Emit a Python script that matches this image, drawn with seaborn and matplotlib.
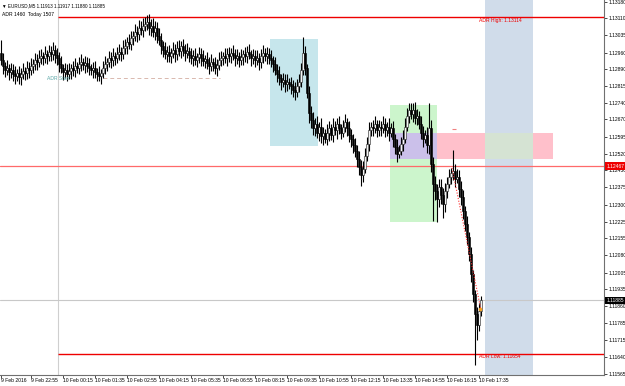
import matplotlib
matplotlib.use("Agg")
import matplotlib.pyplot as plt
import matplotlib.transforms as mtransforms
from matplotlib.patches import Rectangle
import numpy as np
import pandas as pd
import seaborn as sns

# ---------------- data ----------------
symbol_title = "\u25BC EURUSD,M5 1.11913 1.11917 1.11880 1.11885"
adr_title = "ADR 1460  Today 1507"

first_open = 1.12960
closes = [
    1.12927, 1.12901, 1.12884, 1.12892, 1.12875, 1.12884, 1.12866, 1.12857, 1.12870, 1.12853,
    1.12866, 1.12879, 1.12870, 1.12892, 1.12884, 1.12901, 1.12910, 1.12927, 1.12918, 1.12936,
    1.12944, 1.12936, 1.12953, 1.12944, 1.12962, 1.12953, 1.12971, 1.12949, 1.12936, 1.12910,
    1.12892, 1.12875, 1.12884, 1.12866, 1.12879, 1.12892, 1.12884, 1.12901, 1.12892, 1.12910,
    1.12918, 1.12905, 1.12914, 1.12901, 1.12892, 1.12884, 1.12892, 1.12875, 1.12866, 1.12857,
    1.12870, 1.12892, 1.12910, 1.12918, 1.12936, 1.12927, 1.12944, 1.12936, 1.12953, 1.12962,
    1.12953, 1.12979, 1.12988, 1.13006, 1.12997, 1.13023, 1.13032, 1.13049, 1.13040, 1.13067,
    1.13058, 1.13075, 1.13084, 1.13093, 1.13067, 1.13075, 1.13049, 1.13067, 1.13032, 1.13014,
    1.12988, 1.12971, 1.12953, 1.12962, 1.12944, 1.12958, 1.12971, 1.12953, 1.12979, 1.12966,
    1.12988, 1.12971, 1.12958, 1.12966, 1.12949, 1.12936, 1.12944, 1.12927, 1.12940, 1.12953,
    1.12936, 1.12923, 1.12931, 1.12914, 1.12901, 1.12918, 1.12910, 1.12892, 1.12905, 1.12927,
    1.12936, 1.12944, 1.12936, 1.12953, 1.12944, 1.12958, 1.12949, 1.12936, 1.12944, 1.12927,
    1.12940, 1.12953, 1.12944, 1.12962, 1.12953, 1.12936, 1.12944, 1.12927, 1.12936, 1.12918,
    1.12944, 1.12958, 1.12944, 1.12953, 1.12936, 1.12927, 1.12910, 1.12884, 1.12866, 1.12849,
    1.12831, 1.12840, 1.12822, 1.12831, 1.12822, 1.12814, 1.12796, 1.12788, 1.12814, 1.12831,
    1.12884, 1.12958, 1.12892, 1.12783, 1.12696, 1.12666, 1.12631, 1.12648, 1.12613, 1.12639,
    1.12596, 1.12609, 1.12587, 1.12613, 1.12631, 1.12604, 1.12639, 1.12622, 1.12648, 1.12631,
    1.12613, 1.12639, 1.12657, 1.12631, 1.12604, 1.12587, 1.12561, 1.12535, 1.12500, 1.12465,
    1.12430, 1.12456, 1.12509, 1.12565, 1.12622, 1.12639, 1.12631, 1.12648, 1.12622, 1.12639,
    1.12631, 1.12648, 1.12622, 1.12639, 1.12613, 1.12631, 1.12587, 1.12552, 1.12522, 1.12535,
    1.12565, 1.12587, 1.12639, 1.12683, 1.12709, 1.12692, 1.12709, 1.12674, 1.12683, 1.12648,
    1.12613, 1.12587, 1.12604, 1.12561, 1.12631, 1.12478, 1.12391, 1.12360, 1.12326, 1.12378,
    1.12343, 1.12304, 1.12360, 1.12391, 1.12421, 1.12439, 1.12447, 1.12413, 1.12421, 1.12369,
    1.12334, 1.12273, 1.12216, 1.12160, 1.12086, 1.11998, 1.11911, 1.11824, 1.11780, 1.11837,
    1.11885,
]
upper_wick_pips = [
    5.4, 3, 2, 3.5, 2, 3, 2.5, 3.5, 2, 3,
    2.5, 3.5, 2, 3, 2.5, 3.5, 2, 3, 2.5, 3.5,
    3, 2, 3.5, 2, 3, 2.5, 3.5, 2, 3, 2.5,
    3.5, 2, 3, 2.5, 3.5, 2, 3, 3.5, 2, 3,
    3.5, 2, 3, 2.5, 3.5, 2, 2.5, 3, 2, 3.5,
    2, 3, 3.5, 2, 3, 2.5, 3.5, 2, 3, 3.5,
    2, 3.5, 3, 2, 3.5, 3, 2, 3.5, 2.5, 3.5,
    3, 3.5, 3, 3, 3.5, 3, 3.5, 3, 2.5, 3.5,
    3, 2, 3.5, 2.5, 3, 2, 3.5, 2.5, 3, 3.5,
    2, 3, 2.5, 3.5, 2, 3, 2.5, 3.5, 2, 3,
    2.5, 3.5, 2, 3, 2.5, 3.5, 2, 3, 2.5, 3.5,
    3, 2, 3.5, 2.5, 3, 2, 3.5, 2.5, 3, 2,
    3.5, 2, 3, 2.5, 3.5, 2, 3, 2.5, 3.5, 2,
    3, 3.5, 2, 3, 2.5, 3.5, 2, 3, 2.5, 3.5,
    2, 3, 2.5, 3.5, 2, 3, 2.5, 3.5, 3, 3.5,
    3, 7, 3, 2, 3, 3, 3.5, 3, 3.5, 2,
    3.5, 3, 2, 3.5, 3, 2, 3.5, 2.5, 3, 3.5,
    2, 3, 3.5, 2, 3, 2.5, 2, 3, 2.5, 3.5,
    3, 3.5, 3.5, 3, 3.5, 2, 3, 3.5, 2, 3,
    2.5, 3.5, 3, 2, 3.5, 2.5, 3, 2, 3.5, 2.5,
    3, 3.5, 3.5, 3.5, 3, 3, 3, 3.5, 3, 2.5,
    3.5, 3, 2, 3.5, 11, 3.5, 3, 3.5, 3, 3.5,
    3.5, 3, 3.5, 3, 3.5, 2, 9, 3, 3.5, 3,
    3.5, 3, 2, 3.5, 2, 3, 2, 2, 3, 3.5,
    2,
]
lower_wick_pips = [
    2, 3.5, 3, 2, 3.5, 2.5, 3, 3.5, 2, 3,
    3.5, 2, 3, 2.5, 3.5, 2, 3, 2.5, 3.5, 2,
    2.5, 3, 2, 3.5, 2, 3, 2.5, 3.5, 3, 3.5,
    2, 3.5, 2.5, 3, 2, 3.5, 2.5, 3, 2, 2.5,
    3, 2, 3.5, 2.5, 3, 2, 3.5, 2.5, 3, 2,
    3.5, 2, 2.5, 3, 2, 3.5, 2.5, 3, 2, 2.5,
    3, 2, 2.5, 3.5, 2, 2.5, 3, 2, 3.5, 2.5,
    2, 3, 2, 2.5, 3, 3.5, 2, 3.5, 3, 2,
    3.5, 3, 2, 3.5, 2.5, 3, 2, 3.5, 2.5, 2,
    3, 2.5, 3.5, 2, 3, 2.5, 3.5, 2, 3, 2.5,
    3.5, 2, 3, 2.5, 3.5, 2, 3, 2.5, 3.5, 2,
    2.5, 3, 2, 3.5, 2.5, 3, 2, 3.5, 2.5, 3,
    2, 3.5, 2.5, 3, 2, 3.5, 2.5, 3, 2, 3.5,
    2.5, 3, 2, 3.5, 2.5, 3, 3.5, 2, 3.5, 3,
    3.5, 2, 3.5, 3, 2, 3.5, 3, 3.5, 2, 2.5,
    2, 2, 3, 2, 4, 3.5, 3, 3.5, 2.5, 3.5,
    3, 3.5, 2, 3, 3.5, 2.5, 3, 2, 3.5, 2.5,
    3, 2, 2.5, 3.5, 3, 3.5, 3.5, 3, 3.5, 3.5,
    5, 3, 2, 2, 3, 2.5, 3.5, 2, 3, 2.5,
    3.5, 2, 3, 2.5, 3.5, 2, 3.5, 3, 3.5, 2,
    2, 3, 2, 2, 3, 2, 3.5, 2.5, 3, 2,
    3, 3.5, 2, 3.5, 4, 3.5, 16, 4, 10, 3.5,
    4, 6, 3.5, 3, 2, 3, 3, 3.5, 2, 3.5,
    3.5, 3.5, 3, 3.5, 3, 3.5, 3.5, 22, 6.5, 3,
    2,
]

x_tick_bars = [0, 15, 31, 47, 63, 79, 95, 111, 127, 143, 159, 175, 191, 207, 223, 239]
x_tick_labels = ["9 Feb 2016", "9 Feb 22:55", "10 Feb 00:15", "10 Feb 01:35", "10 Feb 02:55",
                 "10 Feb 04:15", "10 Feb 05:35", "10 Feb 06:55", "10 Feb 08:15", "10 Feb 09:35",
                 "10 Feb 10:55", "10 Feb 12:15", "10 Feb 13:35", "10 Feb 14:55", "10 Feb 16:15",
                 "10 Feb 17:35"]
y_tick_labels = ["1.13180", "1.13110", "1.13035", "1.12960", "1.12890", "1.12815", "1.12740",
                 "1.12670", "1.12595", "1.12520", "1.12450", "1.12375", "1.12300", "1.12225",
                 "1.12155", "1.12080", "1.12005", "1.11935", "1.11860", "1.11785", "1.11715",
                 "1.11640", "1.11565"]

adr_start_bar = 28.5
adr_high = 1.13114
adr_low = 1.11654
level_price = 1.12467
bid_price = 1.11885

# zones: (bar_from, bar_to, price_low, price_high)
zone_blue = (134.5, 158.5, 1.12555, 1.13019)
zone_green = (194.5, 218.0, 1.12225, 1.12732)
zone_pink = (194.5, 276.0, 1.12498, 1.12611)
band_blue = (242.0, 266.0)
dash_line = (51.0, 109.5, 1.12850)
trend_bars = [225.5, 240.0]
trend_prices = [1.12459, 1.11843]
marker_bar, marker_price = 239.5, 1.11847
small_mark = (225.5, 227.5, 1.12628)

# ---------------- style ----------------
sns.set_theme(style="white")
plt.rcParams["font.family"] = ["Liberation Sans", "DejaVu Sans"]
FS = 3.6

fig = plt.figure(figsize=(6.25, 3.86), dpi=100)
ax = fig.add_axes([0.0, 11 / 386, 604 / 625, 375 / 386])
ax.set_facecolor("white")

ymin, ymax = 1.11561, 1.13188
ax.set_xlim(-0.5, 301.5)
ax.set_ylim(ymin, ymax)


def rect(b0, b1, p0, p1, color, z=0):
    ax.add_patch(Rectangle((b0, p0), b1 - b0, p1 - p0, facecolor=color,
                           edgecolor="none", zorder=z))


rect(zone_blue[0], zone_blue[1], zone_blue[2], zone_blue[3], "#c6e6ec")
rect(band_blue[0], band_blue[1], ymin, ymax, "#d0dcea")
rect(zone_green[0], zone_green[1], zone_green[2], zone_green[3], "#ccf5cc")
rect(zone_pink[0], zone_pink[1], zone_pink[2], zone_pink[3], "#ffc0cb")
rect(zone_green[0], zone_green[1], zone_pink[2], zone_pink[3], "#cbc0ea", 0.1)
rect(band_blue[0], band_blue[1], zone_pink[2], zone_pink[3], "#d5e3d3", 0.1)

# horizontal/vertical levels
ax.axvline(adr_start_bar, color="#cfcfcf", lw=0.8, zorder=1)
ax.hlines([adr_high, adr_low], adr_start_bar, 301.5, color="#ee0000", lw=1.0, zorder=3)
ax.axhline(level_price, color="#ff6a6a", lw=0.9, zorder=3)
ax.axhline(bid_price, color="#c8c8c8", lw=0.8, zorder=1)
ax.hlines(dash_line[2], dash_line[0], dash_line[1], color="#d9b8ae", lw=0.7,
          linestyles=(0, (4, 3)), zorder=1)

# candles
c = np.array(closes)
o = np.concatenate([[first_open], c[:-1]])
x = np.arange(len(c))
top = np.maximum(o, c)
bot = np.minimum(o, c)
hi = top + np.array(upper_wick_pips) * 1e-4
lo = bot - np.array(lower_wick_pips) * 1e-4
ax.vlines(x, lo, hi, color="black", lw=0.8, zorder=4)
bull = c >= o
heights = np.maximum(top - bot, 0.00002)
ax.bar(x[bull], heights[bull], bottom=bot[bull], width=0.8, color="#f4f4f4",
       edgecolor="#202020", linewidth=0.4, zorder=5)
ax.bar(x[~bull], heights[~bull], bottom=bot[~bull], width=0.8, color="black",
       edgecolor="black", linewidth=0.4, zorder=5)

# trend line & markers
trend_df = pd.DataFrame({"bar": trend_bars, "price": trend_prices})
sns.lineplot(data=trend_df, x="bar", y="price", ax=ax, color="#ff3030", lw=0.8,
             linestyle=(0, (1, 1.5)), zorder=6)
ax.plot([marker_bar], [marker_price], "o", color="#f0a020", ms=1.6, zorder=7)
ax.hlines(small_mark[2], small_mark[0], small_mark[1], color="#f08080", lw=0.8, zorder=6)

# texts
ax.text(adr_start_bar, 1.12846, "ADR Start", color="#5aa6a6", fontsize=FS,
        ha="center", va="center", zorder=6)
ax.text(239, adr_high - 0.00004, f"ADR High: {adr_high:.5f}", color="#ee0000",
        fontsize=FS, ha="left", va="top", zorder=6)
ax.text(239, adr_low - 0.00004, f"ADR Low: {adr_low:.5f}", color="#ee0000",
        fontsize=FS, ha="left", va="top", zorder=6)
ax.text(0.003, 0.992, symbol_title, transform=ax.transAxes, fontsize=3.3,
        ha="left", va="top", color="black", family=["Liberation Sans", "DejaVu Sans"])
ax.text(0.003, 0.967, adr_title, transform=ax.transAxes, fontsize=FS,
        ha="left", va="top", color="black")

# axes
ax.set_xlabel("")
ax.set_ylabel("")
for s in ["left", "top"]:
    ax.spines[s].set_visible(False)
for s in ["right", "bottom"]:
    ax.spines[s].set_visible(True)
    ax.spines[s].set_color("#707070")
    ax.spines[s].set_linewidth(0.8)

ax.yaxis.tick_right()
ax.set_yticks([float(v) for v in y_tick_labels])
ax.set_yticklabels(y_tick_labels)
ax.set_xticks(x_tick_bars)
ax.set_xticklabels(x_tick_labels)
ax.tick_params(axis="y", which="both", right=True, left=False, length=2, width=0.5,
               pad=1, labelsize=FS, colors="black")
ax.tick_params(axis="x", which="both", bottom=True, length=2, width=0.5, pad=0.5,
               labelsize=FS, colors="black")
for lab in ax.get_xticklabels():
    lab.set_ha("left")

# price boxes on the right axis
trans = mtransforms.blended_transform_factory(ax.transAxes, ax.transData)
ax.text(1.004, level_price, f"{level_price:.5f}", transform=trans, fontsize=FS,
        color="white", ha="left", va="center", zorder=10, clip_on=False,
        bbox=dict(boxstyle="square,pad=0.25", facecolor="#ee0000", edgecolor="none"))
ax.text(1.004, bid_price, f"{bid_price:.5f}", transform=trans, fontsize=FS,
        color="white", ha="left", va="center", zorder=10, clip_on=False,
        bbox=dict(boxstyle="square,pad=0.25", facecolor="black", edgecolor="none"))

fig.savefig("out.png", dpi=100, facecolor="white")
